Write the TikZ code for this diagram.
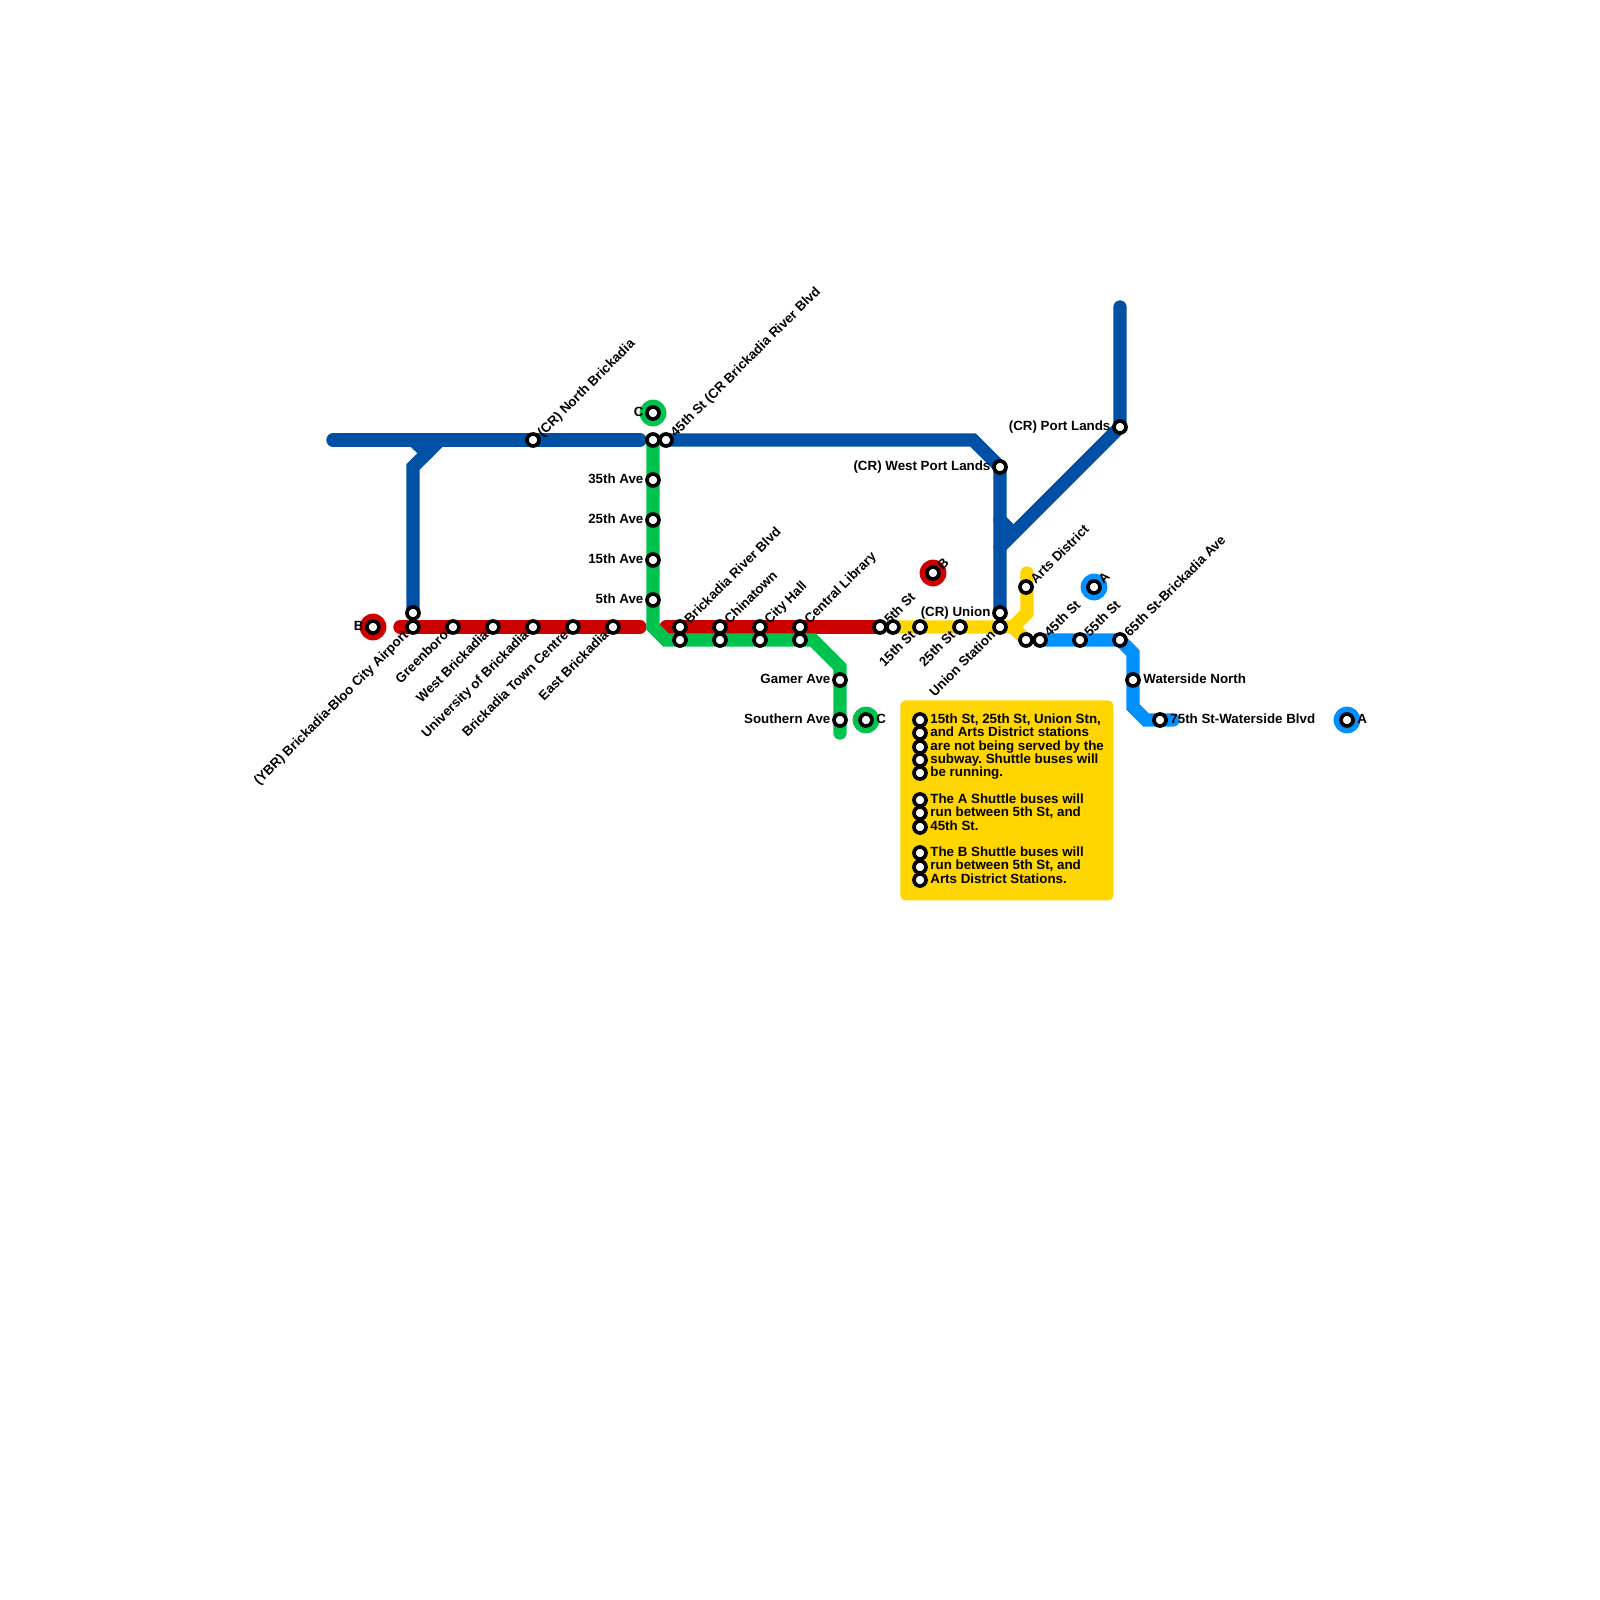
\documentclass[tikz,border=0pt]{standalone}
\usepackage{fontspec}
\setmainfont{Liberation Sans}
\definecolor{cblue}{HTML}{0050A5}
\definecolor{cred}{HTML}{CC0000}
\definecolor{cgreen}{HTML}{00C34D}
\definecolor{cyellow}{HTML}{FFD500}
\definecolor{csky}{HTML}{0091FF}
\frenchspacing
\tikzset{
  route/.style={line width=6.67pt,line cap=round,line join=miter},
  stn/.style={circle,draw=black,fill=white,line width=1.85pt,minimum size=6pt,inner sep=0pt},
  badge/.style={circle,minimum size=13.4pt,inner sep=0pt},
  txt/.style={inner sep=0pt,font=\fontsize{6.67}{6.67}\selectfont\bfseries,text=black},
  lblW/.style={txt,xshift=-4.6pt,yshift=.7pt,anchor=mid east},
  lblE/.style={txt,xshift=5pt,yshift=.7pt,anchor=mid west},
  lblNE/.style={txt,xshift=2.9pt,yshift=3.0pt,rotate=45,anchor=mid west},
  lblSW/.style={txt,xshift=-3.7pt,yshift=-2.5pt,rotate=45,anchor=mid east},
  note/.style={txt,anchor=north west,align=left},
}
\begin{document}
\begin{tikzpicture}[x=0.5pt,y=-0.5pt]
\useasboundingbox (0,0) rectangle (1600,1600);
% line vertices
\coordinate (b1) at (333,440); \coordinate (b2) at (640,440);
\coordinate (b3) at (413,613); \coordinate (b4) at (413,467); \coordinate (b5) at (440,440);
\coordinate (b6) at (413,440); \coordinate (b7) at (427,453); \coordinate (b8) at (427,440);
\coordinate (b9) at (666,440); \coordinate (b10) at (973,440); \coordinate (b11) at (1000,467); \coordinate (b12) at (1000,613);
\coordinate (b13) at (1120,307); \coordinate (b14) at (1120,427); \coordinate (b15) at (1000,547);
\coordinate (b16) at (1000,520); \coordinate (b17) at (1013,533);
\coordinate (r1) at (400,627); \coordinate (r2) at (640,627);
\coordinate (r3) at (666,627); \coordinate (r4) at (880,627);
\coordinate (g1) at (653,440); \coordinate (g2) at (653,627); \coordinate (g3) at (666,640);
\coordinate (g4) at (813,640); \coordinate (g5) at (840,667); \coordinate (g6) at (840,733);
\coordinate (y1) at (893,627); \coordinate (y2) at (1013,627); \coordinate (y3) at (1027,613);
\coordinate (y4) at (1027,573); \coordinate (y5) at (1026,640);
\coordinate (k1) at (1040,640); \coordinate (k2) at (1120,640); \coordinate (k3) at (1133,653);
\coordinate (k4) at (1133,707); \coordinate (k5) at (1146,720); \coordinate (k6) at (1173,720);
% routes
\draw[route,cyellow] (y1) -- (y2) -- (y3) -- (y4);
\draw[route,cyellow] (y2) -- (y5);
\draw[route,cred] (r1) -- (r2);
\draw[route,cred] (r3) -- (r4);
\draw[route,cgreen] (g1) -- (g2) -- (g3) -- (g4) -- (g5) -- (g6);
\draw[route,csky] (k1) -- (k2) -- (k3) -- (k4) -- (k5) -- (k6);
\draw[route,cblue] (b1) -- (b2);
\draw[route,cblue] (b3) -- (b4) -- (b5);
\draw[route,cblue] (b6) -- (b7);
\draw[route,cblue] (b8) -- (b7);
\draw[route,cblue] (b9) -- (b10) -- (b11) -- (b12);
\draw[route,cblue] (b13) -- (b14) -- (b15);
\draw[route,cblue] (b16) -- (b17);
% terminal badges
\node[badge,fill=cred] (bdgB1) at (373,627) {};
\node[badge,fill=cgreen] (bdgC1) at (653,413) {};
\node[badge,fill=cred] (bdgB2) at (933,573) {};
\node[badge,fill=csky] (bdgA1) at (1094,587) {};
\node[badge,fill=cgreen] (bdgC2) at (866,720) {};
\node[badge,fill=csky] (bdgA2) at (1347,720) {};
% note box
\node[draw=none,fill=cyellow,rounded corners=2.5pt,minimum width=106.5pt,minimum height=100pt,inner sep=0pt,anchor=north west] (notebox) at (900,700) {};
% stations
\foreach \n/\x/\y in {
 sB1/373/627, sC1/653/413, sB2/933/573, sA1/1094/587, sC2/866/720, sA2/1347/720,
 nb/533/440, ba/653/440, bb/666/440, a35/653/480, a25/653/520, a15/653/560, a5/653/600,
 yb/413/613, ya/413/627, gb/453/627, wb/493/627, ub/533/627, tc/573/627, eb/613/627,
 rb1/680/627, rb2/680/640, ct1/720/627, ct2/720/640, ch1/760/627, ch2/760/640, cl1/800/627, cl2/800/640,
 gm/840/680, so/840/720, st5/880/627, stx/893/627, st15/920/627, st25/960/627,
 un1/1000/613, un2/1000/627, wp/1000/467, pl/1120/427, ar/1026/587,
 st40/1026/640, st45/1040/640, st55/1080/640, st65/1120/640, wn/1133/680, st75/1160/720,
 n1/920/720, n2/920/733, n3/920/747, n4/920/760, n5/920/773,
 n6/920/800, n7/920/813, n8/920/827,
 n9/920/853, n10/920/867, n11/920/880}
 {\node[stn] (\n) at (\x,\y) {};}
% west labels
\node[lblW] (tB1) at (sB1.center) {B};
\node[lblW] (tC1) at (sC1.center) {C};
\node[lblW] (t35) at (a35.center) {35th Ave};
\node[lblW] (t25) at (a25.center) {25th Ave};
\node[lblW] (t15) at (a15.center) {15th Ave};
\node[lblW] (t5) at (a5.center) {5th Ave};
\node[lblW] (tgm) at (gm.center) {Gamer Ave};
\node[lblW] (tso) at (so.center) {Southern Ave};
\node[lblW] (tpl) at (pl.center) {(CR) Port Lands};
\node[lblW] (twp) at (wp.center) {(CR) West Port Lands};
\node[lblW] (tun) at (un1.center) {(CR) Union};
% east labels
\node[lblE] (tC2) at (sC2.center) {C};
\node[lblE] (tA2) at (sA2.center) {A};
\node[lblE] (twn) at (wn.center) {Waterside North};
\node[lblE] (t75) at (st75.center) {75th St-Waterside Blvd};
% upper right labels
\node[lblNE] (tnb) at (nb.center) {(CR) North Brickadia};
\node[lblNE] (tbb) at (bb.center) {45th St (CR Brickadia River Blvd};
\node[lblNE] (trb) at (rb1.center) {Brickadia River Blvd};
\node[lblNE] (tct) at (ct1.center) {Chinatown};
\node[lblNE] (tch) at (ch1.center) {City Hall};
\node[lblNE] (tcl) at (cl1.center) {Central Library};
\node[lblNE] (t5s) at (st5.center) {5th St};
\node[lblNE] (tar) at (ar.center) {Arts District};
\node[lblNE] (t45) at (st45.center) {45th St};
\node[lblNE] (t55) at (st55.center) {55th St};
\node[lblNE] (t65) at (st65.center) {65th St-Brickadia Ave};
\node[lblNE] (tB2) at (sB2.center) {B};
\node[lblNE] (tA1) at (sA1.center) {A};
% lower left labels
\node[lblSW] (tya) at (ya.center) {(YBR) Brickadia-Bloo City Airport};
\node[lblSW] (tgb) at (gb.center) {Greenboro};
\node[lblSW] (twb) at (wb.center) {West Brickadia};
\node[lblSW] (tub) at (ub.center) {University of Brickadia};
\node[lblSW] (ttc) at (tc.center) {Brickadia Town Centre};
\node[lblSW] (teb) at (eb.center) {East Brickadia};
\node[lblSW] (t15s) at (st15.center) {15th St};
\node[lblSW] (t25s) at (st25.center) {25th St};
\node[lblSW] (tus) at (un2.center) {Union Station};
% note text
\node[note] (p1) at (930,713.5) {15th St, 25th St, Union Stn,\\and Arts District stations\\are not being served by the\\subway. Shuttle buses will\\be running.};
\node[note] (p2) at (930,793.5) {The A Shuttle buses will\\run between 5th St, and\\45th St.};
\node[note] (p3) at (930,846.5) {The B Shuttle buses will\\run between 5th St, and\\Arts District Stations.};
\end{tikzpicture}
\end{document}
